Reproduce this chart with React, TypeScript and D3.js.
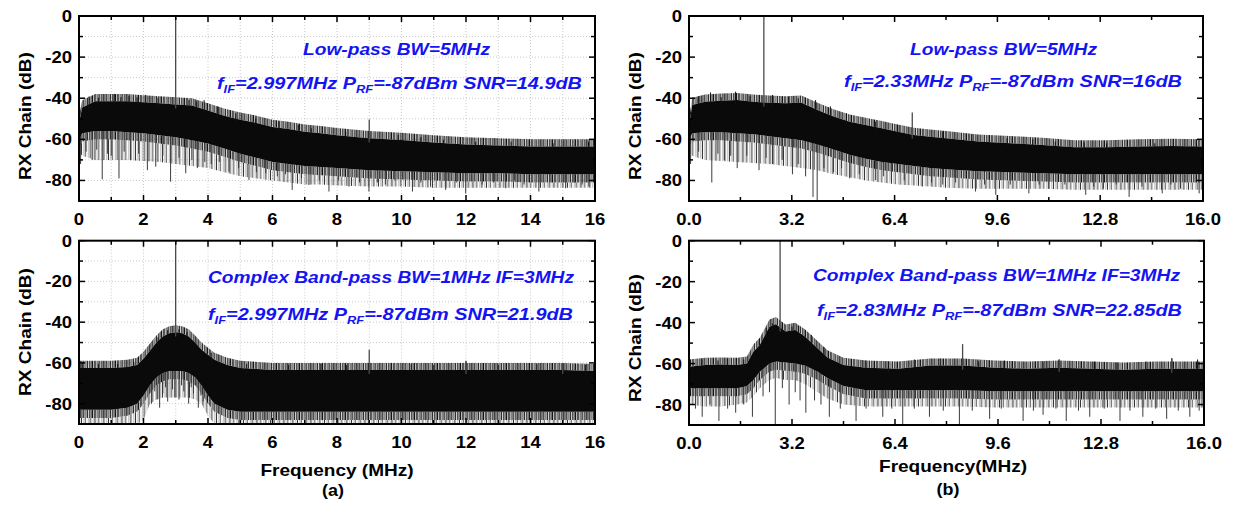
import React from 'react';
import * as d3 from 'd3';

type Pt = [number, number];

const FONT = '"Liberation Sans", Arial, Helvetica, sans-serif';
const BLUE = '#1414f2';
const SX = 1.12; // horizontal stretch of the bold lettering

// Axis tick labels
const aFreqTicks = [0, 2, 4, 6, 8, 10, 12, 14, 16];
const bFreqTicks = [0, 3.2, 6.4, 9.6, 12.8, 16.0];
const dbTicks = [0, -20, -40, -60, -80];

// ---------- (a) low-pass: noise floor envelope (MHz, dB) ----------
const aLowFreq = [0, 0.1, 0.5, 1, 1.5, 2, 2.5, 3, 3.5, 4, 4.5, 5, 5.5, 6, 6.5, 7, 7.5, 8, 9, 10, 11, 12, 13, 14, 15, 16];
const aLowTop = [-52, -44.5, -41.5, -41.5, -41.5, -42, -42.5, -43, -43.5, -46, -48.5, -50.5, -52, -54, -55, -56.3, -57, -58, -59.5, -60.3, -61.5, -62.5, -63, -63.5, -63.5, -63.5];
const aLowCore = [-60, -57, -56, -56, -56.5, -57, -58, -59, -60.5, -62, -64.5, -67, -69, -71, -72, -73, -73.5, -74, -75, -75.5, -76, -76.5, -76.5, -77, -77, -77];
const aLowFloor = [-66, -68, -70, -70, -70, -70.5, -71, -72, -73, -74, -76, -78, -79, -80, -81, -82, -82, -82.5, -83, -83, -83.5, -83.5, -83.5, -83.5, -83.5, -83.5];
const aLowPeaks: Pt[] = [[0.31, -39.2], [0.6, -39.8], [1.09, -37.9], [1.3, -39.5], [1.55, -38.9], [1.8, -39.6], [2.07, -38.4], [2.45, -39.8], [3.41, -40.9], [3.65, -41.5], [3.88, -40.9], [4.3, -44], [4.86, -47.3], [5.48, -49.8], [6.2, -51.4], [6.8, -53], [7.2, -54.6], [8.27, -56.3], [9.9, -57.9], [10.6, -59], [11.3, -60.3], [12.3, -61.1], [13.4, -61.1], [14.7, -61.9], [15.8, -61.1]];
const aLowDips: Pt[] = [[0.05, -72], [0.22, -66], [0.41, -70], [0.55, -65], [0.72, -79.5], [0.88, -67], [1.0, -68], [1.24, -79], [1.4, -66], [1.6, -70], [1.85, -67], [2.12, -75], [2.38, -73.3], [2.6, -68], [2.84, -80.6], [3.1, -69], [3.31, -76.5], [3.5, -70], [3.67, -74], [3.9, -71], [4.1, -72], [4.35, -71], [4.65, -75.7], [4.95, -74], [5.27, -79.8], [5.5, -76], [5.79, -76.5], [6.15, -78], [6.4, -77], [6.61, -84.6], [6.9, -79], [7.13, -82.2], [7.45, -80], [7.75, -85.4], [8.05, -80], [8.37, -83], [8.7, -81], [8.99, -85.4], [9.25, -81], [9.5, -82], [9.8, -80], [10.34, -85.4], [10.6, -81], [10.9, -83], [11.37, -84.6], [11.7, -81], [11.99, -86.3], [12.5, -82], [12.85, -81], [13.23, -83.8], [13.5, -80], [13.8, -82], [14.26, -85.4], [14.6, -81], [15.09, -83.8], [15.35, -81], [15.6, -82], [15.81, -83]];
const aLowTones: Pt[] = [[2.997, 0], [9.0, -50.3]];

// ---------- (a) complex band-pass ----------
const aBandFreq = [0, 0.5, 1, 1.5, 1.8, 2, 2.2, 2.4, 2.6, 2.8, 3, 3.2, 3.4, 3.6, 3.8, 4, 4.2, 4.6, 5, 6, 7, 8, 9, 10, 11, 12, 13, 14, 15, 16];
const aBandTop = [-62.5, -62.5, -62.5, -62, -61, -58, -54, -50, -47, -45.5, -45, -45.5, -47, -50, -53.5, -56, -58.5, -61, -62.5, -63.5, -63.5, -63.5, -63.5, -63.5, -63.5, -63.5, -63.5, -63.5, -63.5, -64];
const aBandCore = [-83, -83, -83, -82, -80, -76, -71, -67, -65, -64, -64, -64, -65, -67, -71, -76, -80, -83, -84, -84, -84, -84, -84, -84, -84, -84, -84, -84, -84, -84];
const aBandFloor = [-90, -90, -90, -90, -90, -88, -80, -78, -77, -77, -77, -77, -77, -78, -80, -86, -90, -90, -90, -90, -90, -90, -90, -90, -90, -90, -90, -90, -90, -90];
const aBandPeaks: Pt[] = [[0.1, -60], [0.6, -60.5], [1.2, -60.5], [1.7, -59.5], [2.45, -47.5], [2.75, -44], [3.1, -43.5], [3.35, -45], [4.1, -55], [5.2, -60.5], [6.5, -61], [7.5, -60.5], [8.3, -61], [10.3, -60.5], [11.0, -61], [12.0, -59.3], [13.0, -61], [14.2, -60.5], [15.0, -60.1], [15.7, -61]];
const aBandDips: Pt[] = [[2.25, -80], [2.35, -74], [2.42, -78], [2.5, -82], [2.6, -75], [2.68, -72], [2.75, -79], [2.9, -73], [2.97, -77], [3.1, -78], [3.18, -71], [3.25, -74], [3.4, -80], [3.48, -72], [3.55, -75], [3.7, -82], [3.78, -76], [3.85, -79]];
const aBandTones: Pt[] = [[2.997, 0], [9.0, -53.6], [12.0, -59], [15.0, -60]];

// ---------- (b) low-pass ----------
const bLowFreq = [0, 0.1, 0.5, 1, 1.5, 2, 2.5, 3, 3.5, 4, 4.5, 5, 5.5, 6, 6.5, 7, 7.5, 8, 9, 10, 11, 12, 13, 14, 15, 16];
const bLowTop = [-53.8, -43.3, -41.7, -41.2, -40.9, -41.7, -42.2, -42.5, -42.2, -45.7, -48.9, -51.4, -53, -54.6, -56.3, -57.9, -58.7, -59.5, -61.1, -61.9, -62.7, -63.9, -63.9, -63.5, -63.2, -63.5];
const bLowCore = [-60, -57, -56.5, -56.5, -57, -57.5, -58.5, -59.5, -60.5, -62.5, -65, -67.5, -69.5, -71, -72, -73, -74, -74.5, -75.5, -76, -76.5, -77, -77, -77, -77, -77];
const bLowFloor = [-66, -68, -70, -70.5, -71, -71.5, -72, -73, -74, -75, -77, -78.5, -80, -81, -82, -82.5, -83, -83.5, -84, -84, -84, -84.5, -84.5, -84.5, -84.5, -84.5];
const bLowPeaks: Pt[] = [[0.3, -39], [0.67, -37.2], [1.0, -39.5], [1.45, -36.8], [1.9, -39], [2.6, -38.4], [3.1, -39.2], [3.4, -40], [3.94, -40.9], [4.4, -44], [4.9, -47.3], [5.8, -51.4], [6.5, -53], [7.9, -56.3], [8.8, -57.5], [9.9, -59.5], [10.7, -60], [11.4, -61.1], [12.3, -61.5], [13.0, -61.9], [14.5, -61.9], [15.8, -61.9]];
const bLowDips: Pt[] = [[0.05, -72], [0.3, -66], [0.71, -81], [0.9, -67], [1.1, -70], [1.3, -68], [1.5, -74], [1.8, -68], [2.18, -75], [2.4, -69], [2.6, -72], [2.9, -70], [3.22, -77], [3.4, -72], [3.63, -78], [3.86, -88], [3.99, -90], [4.2, -74], [4.5, -76], [4.75, -74], [5.0, -79], [5.3, -77], [5.81, -79.8], [6.05, -78], [6.3, -80], [6.7, -80], [7.26, -83], [7.55, -81], [7.9, -82], [8.3, -81], [8.92, -85.4], [9.2, -82], [9.55, -87], [10.0, -82], [10.58, -86.3], [10.9, -82], [11.2, -84], [11.7, -82], [12.35, -87], [12.6, -83], [12.9, -84], [13.3, -82], [13.7, -88], [14.1, -83], [14.73, -86.3], [15.0, -82], [15.3, -84], [15.88, -86.3]];
const bLowTones: Pt[] = [[2.33, 0], [6.95, -46.9]];

// ---------- (b) complex band-pass ----------
const bBandFreq = [0, 0.5, 1, 1.5, 1.8, 2.0, 2.2, 2.5, 2.7, 3.0, 3.3, 3.6, 4.0, 4.3, 4.8, 5.5, 6.5, 7.5, 8.5, 9.5, 10.5, 11.5, 12.5, 13.5, 14.5, 16];
const bBandTop = [-61.5, -60.7, -60.5, -60.7, -60, -54.2, -50.9, -42, -40.8, -44.4, -43.6, -46.8, -52.6, -57, -60.7, -62, -62.5, -61, -61, -62, -62.5, -62, -62.5, -63, -62.5, -62.5];
const bBandCore = [-72, -72, -72, -72, -71, -68, -64, -60, -59, -59.5, -60, -61, -64, -67, -71, -73, -73, -73, -73, -73.5, -73.5, -73.5, -73.5, -73.5, -73.5, -73.5];
const bBandFloor = [-80, -81, -81, -80, -79, -76, -72, -68, -67, -68, -68, -70, -74, -77, -80, -81, -81, -81, -81, -81.5, -81.5, -81.5, -81.5, -81.5, -81.5, -81.5];
const bBandPeaks: Pt[] = [[0.4, -58], [0.9, -58.5], [1.2, -57.5], [1.7, -58], [2.4, -42.5], [2.6, -40.4], [2.9, -41.5], [3.2, -42], [3.4, -41.5], [3.8, -46], [4.2, -52], [5.5, -58.5], [6.2, -59], [7.0, -58], [7.8, -57.5], [9.0, -59], [9.8, -58.5], [11.0, -59], [11.5, -58], [12.6, -59], [13.3, -59.5], [14.2, -59], [15.0, -57.4], [15.8, -58]];
const bBandDips: Pt[] = [[0.2, -82], [0.41, -86], [0.65, -80], [0.93, -88], [1.2, -82], [1.45, -84], [1.7, -80], [1.97, -86], [2.3, -76], [2.5, -74], [2.68, -90], [2.9, -72], [3.11, -80], [3.3, -74], [3.45, -78], [3.63, -84], [3.9, -78], [4.1, -80], [4.36, -86], [4.7, -82], [5.19, -88], [5.5, -82], [6.02, -86], [6.3, -82], [6.64, -90], [7.0, -82], [7.47, -86], [7.9, -83], [8.4, -90], [8.8, -83], [9.34, -87], [9.7, -82], [10.38, -88], [10.7, -83], [11.0, -85], [11.4, -82], [11.72, -88], [12.1, -83], [12.45, -86], [12.9, -82], [13.39, -88], [13.7, -83], [14.1, -86], [14.5, -82], [14.84, -87], [15.2, -83], [15.56, -86], [15.85, -83]];
const bBandTones: Pt[] = [[2.83, 0], [8.5, -50.5], [11.5, -58], [15.0, -57.4]];

interface SpecProps {
  id: string;
  x0: number; x1: number; y0: number; y1: number;
  freq: number[]; top: number[]; core: number[]; floor: number[];
  peaks: Pt[]; dips: Pt[]; tones: Pt[];
  grid: boolean;
  xTicks: number[]; xMinor: number; xFmt: (v: number) => string;
}

function SText(props: { x: number; y: number; children: React.ReactNode; anchor?: string; size?: number; rotate?: number }) {
  const { x, y, children, anchor = 'middle', size = 17, rotate = 0 } = props;
  return (
    <text
      transform={`translate(${x},${y}) rotate(${rotate}) scale(${SX},1)`}
      textAnchor={anchor}
      fontSize={size}
      fontWeight="bold"
      fontFamily={FONT}
      fill="#000"
    >
      {children}
    </text>
  );
}

function Note(props: { x: number; y: number; len: number; children: React.ReactNode }) {
  return (
    <text
      x={props.x}
      y={props.y}
      textLength={props.len}
      lengthAdjust="spacingAndGlyphs"
      fontSize={17}
      fontStyle="italic"
      fontWeight="bold"
      fontFamily={FONT}
      fill={BLUE}
    >
      {props.children}
    </text>
  );
}

// Uneven stripe tiles that stand in for the dense FFT bins
const fringeBars: Pt[] = [[0, 1.2], [1.9, 0.7], [3.1, 1.0], [5.2, 0.6], [6.4, 1.3], [8.6, 0.8], [10.1, 1.0]];
const hatchBars: Pt[] = [[0, 1.0], [2.6, 0.5], [4.1, 0.8], [7.3, 0.6], [9.0, 1.0], [12.2, 0.5]];

function Spectrum(p: SpecProps) {
  const x = d3.scaleLinear().domain([0, 16]).range([p.x0, p.x1]);
  const y = d3.scaleLinear().domain([-90, 0]).range([p.y1, p.y0]);
  const topAt = d3.scaleLinear().domain(p.freq).range(p.top).clamp(true);
  const coreAt = d3.scaleLinear().domain(p.freq).range(p.core).clamp(true);

  const idx = p.freq.map((_, i) => i);
  const fx = (i: number) => x(p.freq[i]);
  const band = d3.area<number>().x(fx).y0((i) => y(p.core[i])).y1((i) => y(p.top[i]));
  const upper = d3.area<number>().x(fx).y0((i) => y(p.top[i])).y1((i) => y(p.top[i] + 3.5));
  const lower = d3.area<number>().x(fx).y0((i) => y(p.core[i] - 4)).y1((i) => y(p.core[i]));
  const hatch = d3.area<number>().x(fx).y0((i) => y(p.floor[i])).y1((i) => y(p.core[i] - 4));

  const minorX = d3.range(0, 16 + 1e-6, p.xMinor);
  const dbAll = d3.range(-90, 0.01, 10);
  const clipId = `clip-${p.id}`;
  const fringeId = `fringe-${p.id}`;
  const hatchId = `hatch-${p.id}`;

  return (
    <g>
      <defs>
        <clipPath id={clipId}>
          <rect x={p.x0} y={p.y0} width={p.x1 - p.x0} height={p.y1 - p.y0} />
        </clipPath>
        <pattern id={fringeId} width={11.5} height={8} patternUnits="userSpaceOnUse">
          {fringeBars.map(([bx, bw], i) => (
            <rect key={i} x={bx} y={0} width={bw} height={8} fill="#111" />
          ))}
        </pattern>
        <pattern id={hatchId} width={13.5} height={8} patternUnits="userSpaceOnUse">
          {hatchBars.map(([bx, bw], i) => (
            <rect key={i} x={bx} y={0} width={bw} height={8} fill={i % 2 ? '#666' : '#333'} />
          ))}
        </pattern>
      </defs>

      {p.grid && (
        <g stroke="#bdbdbd" strokeWidth={0.8} strokeDasharray="1,2">
          {minorX.filter((f) => f > 0 && f < 16).map((f) => (
            <line key={`gx${f}`} x1={x(f)} x2={x(f)} y1={p.y0} y2={p.y1} />
          ))}
          {dbAll.filter((d) => d > -90 && d < 0).map((d) => (
            <line key={`gy${d}`} x1={p.x0} x2={p.x1} y1={y(d)} y2={y(d)} />
          ))}
        </g>
      )}

      <g clipPath={`url(#${clipId})`}>
        <path d={hatch(idx) || ''} fill={`url(#${hatchId})`} />
        <path d={lower(idx) || ''} fill={`url(#${fringeId})`} />
        <g stroke="#3a3a3a" strokeWidth={1}>
          {p.dips.map(([f, d], i) => (
            <line key={`d${i}`} x1={x(f)} x2={x(f)} y1={y(coreAt(f) + 2)} y2={y(d)} />
          ))}
        </g>
        <path d={band(idx) || ''} fill="#0a0a0a" />
        <path d={upper(idx) || ''} fill={`url(#${fringeId})`} />
        <g stroke="#111" strokeWidth={1}>
          {p.peaks.map(([f, d], i) => (
            <line key={`p${i}`} x1={x(f)} x2={x(f)} y1={y(topAt(f) - 2)} y2={y(d)} />
          ))}
        </g>
        <g stroke="#4a4a4a" strokeWidth={1.3}>
          {p.tones.map(([f, d], i) => (
            <line key={`t${i}`} x1={x(f)} x2={x(f)} y1={y(topAt(f) - 2)} y2={y(d)} />
          ))}
        </g>
      </g>

      {/* inward ticks on all four sides */}
      <g stroke="#000" strokeWidth={1.5}>
        {minorX.map((f) => {
          const major = p.xTicks.some((t) => Math.abs(t - f) < 1e-6);
          const len = major ? 6 : 4;
          return (
            <g key={`tx${f}`}>
              <line x1={x(f)} x2={x(f)} y1={p.y1} y2={p.y1 - len} />
              <line x1={x(f)} x2={x(f)} y1={p.y0} y2={p.y0 + len} />
            </g>
          );
        })}
        {dbAll.map((d) => {
          const major = dbTicks.includes(d);
          const len = major ? 6 : 4;
          return (
            <g key={`ty${d}`}>
              <line x1={p.x0} x2={p.x0 + len} y1={y(d)} y2={y(d)} />
              <line x1={p.x1} x2={p.x1 - len} y1={y(d)} y2={y(d)} />
            </g>
          );
        })}
      </g>

      <rect x={p.x0} y={p.y0} width={p.x1 - p.x0} height={p.y1 - p.y0} fill="none" stroke="#000" strokeWidth={2} />

      {p.xTicks.map((t) => (
        <SText key={`lx${t}`} x={x(t)} y={p.y1 + 24} size={16.5}>{p.xFmt(t)}</SText>
      ))}
      {dbTicks.map((d) => (
        <SText key={`ly${d}`} x={p.x0 - 7} y={y(d) + 6} size={16.5} anchor="end">{String(d)}</SText>
      ))}
    </g>
  );
}

function Sub(props: { children: React.ReactNode }) {
  return <tspan fontSize={11} dy={4}>{props.children}</tspan>;
}

export default function App() {
  const fmtA = (v: number) => String(v);
  const fmtB = (v: number) => v.toFixed(1);
  return (
    <div style={{ position: 'absolute', left: 0, top: 0 }}>
      <svg width={1237} height={508} viewBox="0 0 1237 508" style={{ display: 'block', background: '#fff' }}>
        <Spectrum id="al" x0={79} x1={595} y0={16} y1={201} freq={aLowFreq} top={aLowTop} core={aLowCore} floor={aLowFloor}
          peaks={aLowPeaks} dips={aLowDips} tones={aLowTones} grid xTicks={aFreqTicks} xMinor={1} xFmt={fmtA} />
        <Spectrum id="ab" x0={79} x1={595} y0={240.7} y1={424} freq={aBandFreq} top={aBandTop} core={aBandCore} floor={aBandFloor}
          peaks={aBandPeaks} dips={aBandDips} tones={aBandTones} grid xTicks={aFreqTicks} xMinor={1} xFmt={fmtA} />
        <Spectrum id="bl" x0={689} x1={1203} y0={16} y1={201} freq={bLowFreq} top={bLowTop} core={bLowCore} floor={bLowFloor}
          peaks={bLowPeaks} dips={bLowDips} tones={bLowTones} grid={false} xTicks={bFreqTicks} xMinor={1.6} xFmt={fmtB} />
        <Spectrum id="bb" x0={689} x1={1204} y0={240.7} y1={425} freq={bBandFreq} top={bBandTop} core={bBandCore} floor={bBandFloor}
          peaks={bBandPeaks} dips={bBandDips} tones={bBandTones} grid={false} xTicks={bFreqTicks} xMinor={1.6} xFmt={fmtB} />

        {/* axis titles */}
        <SText x={31} y={116} rotate={-90}>RX Chain (dB)</SText>
        <SText x={31} y={332} rotate={-90}>RX Chain (dB)</SText>
        <SText x={641} y={116} rotate={-90}>RX Chain (dB)</SText>
        <SText x={641} y={338} rotate={-90}>RX Chain (dB)</SText>
        <SText x={337} y={476}>Frequency (MHz)</SText>
        <SText x={953} y={472}>Frequency(MHz)</SText>
        <SText x={333} y={496} size={16}>(a)</SText>
        <SText x={948} y={495} size={16}>(b)</SText>

        {/* annotations */}
        <Note x={303} y={55} len={187}>Low-pass BW=5MHz</Note>
        <Note x={217} y={89} len={365}>f<Sub>IF</Sub><tspan dy={-4}>=2.997MHz P</tspan><Sub>RF</Sub><tspan dy={-4}>=-87dBm SNR=14.9dB</tspan></Note>
        <Note x={208} y={283} len={366}>Complex Band-pass BW=1MHz IF=3MHz</Note>
        <Note x={208} y={320} len={365}>f<Sub>IF</Sub><tspan dy={-4}>=2.997MHz P</tspan><Sub>RF</Sub><tspan dy={-4}>=-87dBm SNR=21.9dB</tspan></Note>
        <Note x={910} y={55} len={187}>Low-pass BW=5MHz</Note>
        <Note x={844} y={87} len={338}>f<Sub>IF</Sub><tspan dy={-4}>=2.33MHz P</tspan><Sub>RF</Sub><tspan dy={-4}>=-87dBm SNR=16dB</tspan></Note>
        <Note x={813} y={281} len={367}>Complex Band-pass BW=1MHz IF=3MHz</Note>
        <Note x={817} y={316} len={365}>f<Sub>IF</Sub><tspan dy={-4}>=2.83MHz P</tspan><Sub>RF</Sub><tspan dy={-4}>=-87dBm SNR=22.85dB</tspan></Note>
      </svg>
    </div>
  );
}
